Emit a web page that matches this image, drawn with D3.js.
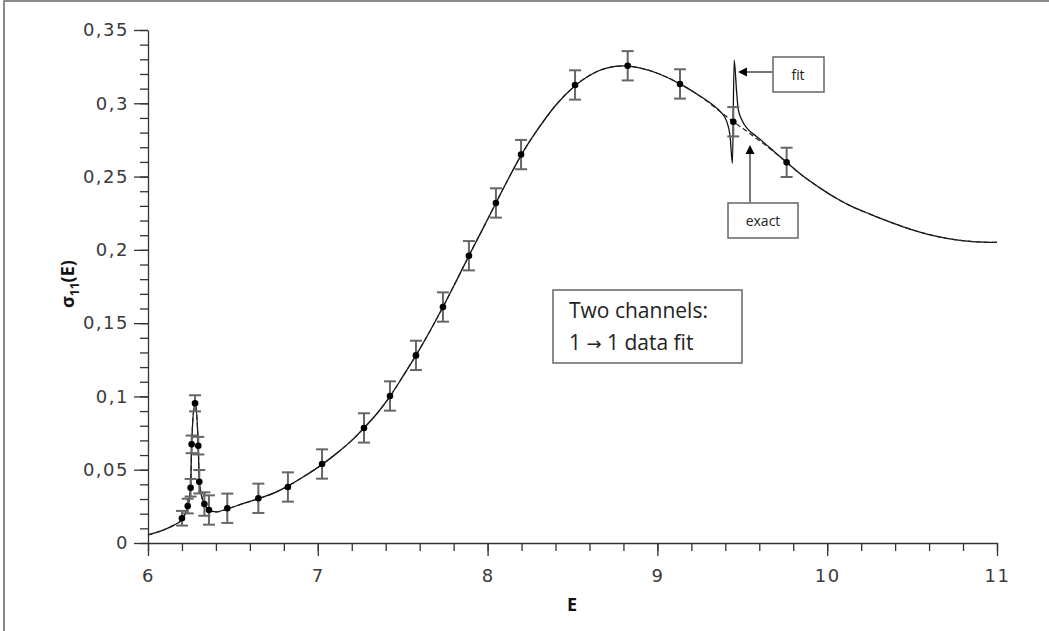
<!DOCTYPE html>
<html>
<head>
<meta charset="utf-8">
<script src="https://cdn.jsdelivr.net/npm/d3@7"></script>
<style>
  html, body { margin: 0; padding: 0; background: #fff; }
  svg { display: block; font-family: "Open Sans", "Noto Sans", sans-serif; }
</style>
</head>
<body>
<svg width="1049" height="631"></svg>
<script>
// measured points with error bars
const pointE = [6.200, 6.234, 6.251, 6.257, 6.277, 6.296, 6.302, 6.332, 6.359, 6.467, 6.650, 6.824,
  7.025, 7.272, 7.425, 7.578, 7.737, 7.890, 8.049, 8.197, 8.515, 8.825, 9.133, 9.447, 9.761];
const pointSigma = [0.0169, 0.0252, 0.0377, 0.0673, 0.0953, 0.0664, 0.0418, 0.0266, 0.0225, 0.0237, 0.0305, 0.0382,
  0.0539, 0.0785, 0.1003, 0.128, 0.161, 0.196, 0.232, 0.265, 0.3125, 0.3256, 0.3132, 0.2874, 0.2597];
const pointErr = [0.005, 0.005, 0.006, 0.006, 0.0055, 0.006, 0.008, 0.008, 0.01, 0.01, 0.01, 0.01,
  0.01, 0.01, 0.01, 0.01, 0.01, 0.01, 0.01, 0.01, 0.01, 0.01, 0.01, 0.01, 0.01];

// exact curve (dashed)
const exactE = [6.00, 6.05, 6.10, 6.15, 6.20, 6.234, 6.251, 6.257, 6.277, 6.296, 6.302, 6.33, 6.36, 6.40,
  6.467, 6.55, 6.65, 6.75, 6.826, 6.92, 7.03, 7.12, 7.20, 7.272, 7.35, 7.425, 7.50, 7.578, 7.66, 7.737,
  7.81, 7.89, 7.97, 8.049, 8.12, 8.197, 8.30, 8.40, 8.515, 8.60, 8.70, 8.80, 8.90, 9.00, 9.133, 9.25,
  9.33, 9.39, 9.447, 9.506, 9.56, 9.622, 9.69, 9.761, 9.85, 9.95, 10.056, 10.15, 10.252, 10.35, 10.448,
  10.55, 10.645, 10.75, 10.841, 10.92, 11.00];
const exactSigma = [0.0055, 0.0072, 0.0093, 0.0120, 0.0162, 0.0250, 0.0377, 0.0673, 0.0955, 0.0664, 0.0418, 0.0270, 0.0225, 0.0212,
  0.0233, 0.0265, 0.0302, 0.0345, 0.0390, 0.0455, 0.0540, 0.0620, 0.0700, 0.0785, 0.0885, 0.1000, 0.1135, 0.1280, 0.1445, 0.1610,
  0.1775, 0.1960, 0.2140, 0.2320, 0.2480, 0.2645, 0.2830, 0.2985, 0.3120, 0.3190, 0.3240, 0.3255, 0.3240, 0.3205, 0.3132, 0.3050,
  0.2980, 0.2925, 0.2875, 0.2826, 0.2780, 0.2727, 0.2665, 0.2597, 0.2510, 0.2428, 0.2350, 0.2293, 0.2244, 0.2199, 0.2157,
  0.2120, 0.2092, 0.2070, 0.2058, 0.2053, 0.2051];

// fit curve (solid) - same as exact except around the narrow resonance near 9.45
const fitE = [6.00, 6.05, 6.10, 6.15, 6.20, 6.234, 6.251, 6.257, 6.277, 6.296, 6.302, 6.33, 6.36, 6.40,
  6.467, 6.55, 6.65, 6.75, 6.826, 6.92, 7.03, 7.12, 7.20, 7.272, 7.35, 7.425, 7.50, 7.578, 7.66, 7.737,
  7.81, 7.89, 7.97, 8.049, 8.12, 8.197, 8.30, 8.40, 8.515, 8.60, 8.70, 8.80, 8.90, 9.00, 9.133, 9.25,
  9.33, 9.369, 9.407, 9.428, 9.442, 9.452, 9.467, 9.476, 9.496, 9.535, 9.58, 9.624, 9.69, 9.761, 9.85,
  9.95, 10.056, 10.15, 10.252, 10.35, 10.448, 10.55, 10.645, 10.75, 10.841, 10.92, 11.00];
const fitSigma = [0.0055, 0.0072, 0.0093, 0.0120, 0.0162, 0.0250, 0.0377, 0.0673, 0.0955, 0.0664, 0.0418, 0.0270, 0.0225, 0.0212,
  0.0233, 0.0265, 0.0302, 0.0345, 0.0390, 0.0455, 0.0540, 0.0620, 0.0700, 0.0785, 0.0885, 0.1000, 0.1135, 0.1280, 0.1445, 0.1610,
  0.1775, 0.1960, 0.2140, 0.2320, 0.2480, 0.2645, 0.2830, 0.2985, 0.3120, 0.3190, 0.3240, 0.3255, 0.3240, 0.3205, 0.3132, 0.3050,
  0.2985, 0.2945, 0.2880, 0.2775, 0.2590, 0.3295, 0.3070, 0.2960, 0.2890, 0.2820, 0.2777, 0.2735, 0.2668, 0.2597, 0.2510,
  0.2428, 0.2350, 0.2293, 0.2244, 0.2199, 0.2157, 0.2120, 0.2092, 0.2070, 0.2058, 0.2053, 0.2051];

const xTicks = [6, 7, 8, 9, 10, 11];
const xTickLabels = ["6", "7", "8", "9", "10", "11"];
const yTicks = [0, 0.05, 0.1, 0.15, 0.2, 0.25, 0.3, 0.35];
const yTickLabels = ["0", "0,05", "0,1", "0,15", "0,2", "0,25", "0,3", "0,35"];

const svg = d3.select("svg");

// outer frame
svg.append("rect")
  .attr("x", 4).attr("y", 1)
  .attr("width", 1100).attr("height", 700)
  .attr("fill", "none").attr("stroke", "#666").attr("stroke-width", 1.5);

const xScale = d3.scaleLinear().domain([6, 11]).range([148, 997]);
const yScale = d3.scaleLinear().domain([0, 0.35]).range([543, 30]);

// minor ticks
svg.append("g")
  .attr("transform", "translate(0,543)")
  .call(d3.axisBottom(xScale).tickValues(d3.range(6, 11.001, 0.2)).tickSize(8).tickSizeOuter(0).tickFormat(""))
  .call((g) => g.select(".domain").remove());

svg.append("g")
  .attr("transform", "translate(148,0)")
  .call(d3.axisLeft(yScale).tickValues(d3.range(0, 0.3501, 0.01)).tickSize(8).tickSizeOuter(0).tickFormat(""))
  .call((g) => g.select(".domain").remove());

// major axes
const xAxis = svg.append("g")
  .attr("transform", "translate(0,543)")
  .call(d3.axisBottom(xScale).tickValues(xTicks).tickSize(13).tickSizeOuter(0)
    .tickFormat((d, i) => xTickLabels[i]));

const yAxis = svg.append("g")
  .attr("transform", "translate(148,0)")
  .call(d3.axisLeft(yScale).tickValues(yTicks).tickSize(14).tickSizeOuter(0)
    .tickFormat((d, i) => yTickLabels[i]));

svg.selectAll(".tick line, .domain").attr("stroke", "#333").attr("stroke-width", 1.3);

xAxis.selectAll("text")
  .attr("font-size", 18).attr("fill", "#3a3a3a").attr("font-family", "DejaVu Sans")
  .attr("letter-spacing", 1.5).attr("y", 39).attr("dy", 0);
yAxis.selectAll("text")
  .attr("font-size", 18).attr("fill", "#3a3a3a").attr("font-family", "DejaVu Sans")
  .attr("letter-spacing", 1.5).attr("x", -19);

// axis titles
svg.append("text")
  .attr("x", 572).attr("y", 611)
  .attr("text-anchor", "middle")
  .attr("font-size", 18).attr("font-weight", "bold").attr("fill", "#111")
  .text("E");

const yTitle = svg.append("text")
  .attr("transform", "translate(74,284) rotate(-90)")
  .attr("text-anchor", "middle")
  .attr("font-size", 18).attr("font-weight", "bold").attr("fill", "#111");
yTitle.append("tspan").text("σ");
yTitle.append("tspan").attr("font-size", 12).attr("dy", 5).text("11");
yTitle.append("tspan").attr("dy", -5).text("(E)");

// curves
const exactData = exactE.map((e, i) => ({ e, s: exactSigma[i] }));
const fitData = fitE.map((e, i) => ({ e, s: fitSigma[i] }));

const line = d3.line()
  .x((d) => xScale(d.e))
  .y((d) => yScale(d.s))
  .curve(d3.curveMonotoneX);

svg.append("path")
  .datum(fitData)
  .attr("d", line)
  .attr("fill", "none").attr("stroke", "#111").attr("stroke-width", 1.3);

svg.append("path")
  .datum(exactData)
  .attr("d", line)
  .attr("fill", "none").attr("stroke", "#222").attr("stroke-width", 1.2)
  .attr("stroke-dasharray", "5,3");

// error bars
const points = pointE.map((e, i) => ({ e, s: pointSigma[i], err: pointErr[i] }));

const bars = svg.append("g").attr("stroke", "#666").attr("stroke-width", 2);
bars.selectAll("line.v")
  .data(points).enter().append("line")
  .attr("class", "v")
  .attr("x1", (d) => xScale(d.e)).attr("x2", (d) => xScale(d.e))
  .attr("y1", (d) => yScale(d.s - d.err)).attr("y2", (d) => yScale(d.s + d.err));
bars.selectAll("line.top")
  .data(points).enter().append("line")
  .attr("class", "top")
  .attr("x1", (d) => xScale(d.e) - 6).attr("x2", (d) => xScale(d.e) + 6)
  .attr("y1", (d) => yScale(d.s + d.err)).attr("y2", (d) => yScale(d.s + d.err));
bars.selectAll("line.bot")
  .data(points).enter().append("line")
  .attr("class", "bot")
  .attr("x1", (d) => xScale(d.e) - 6).attr("x2", (d) => xScale(d.e) + 6)
  .attr("y1", (d) => yScale(d.s - d.err)).attr("y2", (d) => yScale(d.s - d.err));

svg.selectAll("circle.dot")
  .data(points).enter().append("circle")
  .attr("class", "dot")
  .attr("cx", (d) => xScale(d.e)).attr("cy", (d) => yScale(d.s))
  .attr("r", 3.3).attr("fill", "#000");

// info box
svg.append("rect")
  .attr("x", 553).attr("y", 290).attr("width", 189).attr("height", 73)
  .attr("fill", "#fff").attr("stroke", "#666").attr("stroke-width", 1.5);
svg.append("text").attr("x", 569).attr("y", 318)
  .attr("font-size", 21).attr("fill", "#222").text("Two channels:");
const line2 = svg.append("text").attr("x", 569).attr("y", 350)
  .attr("font-size", 21).attr("fill", "#222");
line2.append("tspan").text("1 ");
line2.append("tspan").attr("font-family", "DejaVu Sans").attr("font-size", 18).text("→");
line2.append("tspan").text(" 1 data fit");

// annotation: fit
svg.append("rect")
  .attr("x", 773).attr("y", 57).attr("width", 51).attr("height", 35)
  .attr("fill", "#fff").attr("stroke", "#666").attr("stroke-width", 1.5);
svg.append("text").attr("x", 798).attr("y", 80).attr("text-anchor", "middle")
  .attr("font-size", 14).attr("fill", "#222").text("fit");
svg.append("line").attr("x1", 773).attr("y1", 72).attr("x2", 745).attr("y2", 72)
  .attr("stroke", "#777").attr("stroke-width", 2);
svg.append("path").attr("d", "M738,72 L747,67.5 L747,76.5 Z").attr("fill", "#000");

// annotation: exact
svg.append("rect")
  .attr("x", 728).attr("y", 203).attr("width", 70).attr("height", 35)
  .attr("fill", "#fff").attr("stroke", "#666").attr("stroke-width", 1.5);
svg.append("text").attr("x", 763).attr("y", 226).attr("text-anchor", "middle")
  .attr("font-size", 14).attr("fill", "#222").text("exact");
svg.append("line").attr("x1", 750).attr("y1", 203).attr("x2", 750).attr("y2", 152)
  .attr("stroke", "#777").attr("stroke-width", 2);
svg.append("path").attr("d", "M750,145 L745.5,154 L754.5,154 Z").attr("fill", "#000");
</script>
</body>
</html>
